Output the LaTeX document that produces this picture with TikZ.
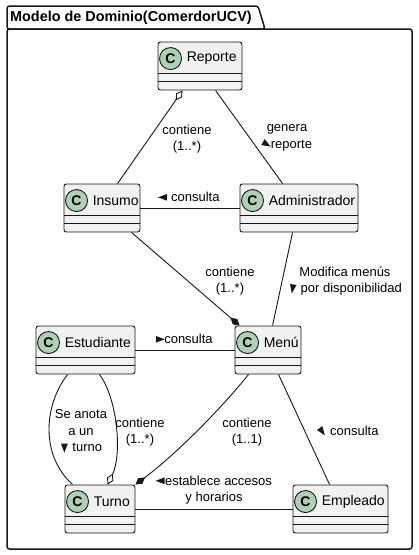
\documentclass[tikz,border=0pt]{standalone}
\usepackage{fontspec}
\setmainfont{Liberation Sans}
\usetikzlibrary{arrows.meta}
\definecolor{boxfill}{HTML}{F1F1F1}
\definecolor{ink}{HTML}{181818}
\definecolor{cgreen}{HTML}{ADD1B2}
\newcommand\tri[1]{\tikz[x=1cm,y=1cm,baseline={(0pt,-4.3pt)}]{\useasboundingbox (-4.5pt,-4.5pt) rectangle (4.5pt,4.5pt); \fill[ink] (#1:5pt) -- ({#1+140}:5.2pt) -- ({#1-140}:5.2pt) -- cycle;}}
\tikzset{
  classbox/.style={draw=ink, fill=boxfill, line width=0.9pt, rounded corners=2.5pt, inner sep=0pt, minimum height=48pt},
  cletter/.style={circle, draw=ink, fill=cgreen, line width=0.9pt, minimum size=22pt, inner sep=0pt, font=\fontsize{14}{14}\selectfont\bfseries},
  cname/.style={anchor=west, inner sep=0pt, font=\fontsize{14}{14}\selectfont},
  link/.style={draw=ink, line width=0.9pt},
  lbl/.style={align=center, inner sep=0pt, font=\fontsize{13}{16.5}\selectfont, text=black},
  pkg/.style={draw=ink, line width=1.5pt, fill=white},
  aggtip/.style={{Diamond[open, length=12pt, width=7pt]}-},
  aggend/.style={-{Diamond[open, length=12pt, width=7pt]}},
  compend/.style={-{Diamond[length=12pt, width=7pt]}}
}
\newcommand\umlclass[5]{%
  \node[classbox, minimum width={(#4)-(#2)}] (#1) at ({(#2+#4)/2},{#3+24}) {};
  \draw[link] ([yshift=-32pt]#1.north west) -- ([yshift=-32pt]#1.north east);
  \draw[link] ([yshift=-40pt]#1.north west) -- ([yshift=-40pt]#1.north east);
  \node[cletter] (#1-c) at ([xshift=13pt,yshift=-17pt]#1.north west) {C};
  \node[cname] (#1-t) at ([xshift=29pt,yshift=-17pt]#1.north west) {#5};
}
\begin{document}
\begin{tikzpicture}[x=1pt,y=-1pt]
\useasboundingbox (0,0) rectangle (419,555);
\fill[white] (0,0) rectangle (419,555);
% package
\draw[pkg, rounded corners=2.5pt] (7,6) -- (258,6) -- (265,29) -- (7,29) -- cycle;
\draw[pkg, rounded corners=2.5pt] (7,29) rectangle (412,549);
\node[anchor=west, inner sep=0pt, font=\fontsize{14.4}{14.4}\selectfont\bfseries] (title) at (10,17.5) {Modelo de Dominio(ComerdorUCV)};
% classes
\umlclass{rep}{158}{42}{242}{Reporte}
\umlclass{ins}{64}{184}{140}{Insumo}
\umlclass{adm}{240}{184}{358}{Administrador}
\umlclass{est}{36}{326}{135}{Estudiante}
\umlclass{men}{235}{326}{301}{Menú}
\umlclass{tur}{65}{485}{135}{Turno}
\umlclass{emp}{293}{485}{388}{Empleado}
% connectors
\draw[link, aggtip] ([xshift=25pt]rep.south west) -- ([xshift=54pt]ins.north west);
\draw[link] ([xshift=58pt]rep.south west) -- ([xshift=43pt]adm.north west);
\draw[link] (ins.east) -- (adm.west);
\draw[link, compend] ([xshift=68pt]ins.south west) -- ([xshift=5pt]men.north west);
\draw[link] ([xshift=53pt]adm.south west) -- ([xshift=38pt]men.north west);
\draw[link] (est.east) -- (men.west);
\draw[link] ([xshift=32pt]est.south west) .. controls (44,405) and (40,455) .. ([xshift=8pt]tur.north west);
\draw[link, aggend] ([xshift=64pt]est.south west) .. controls (118,400) and (122,455) .. ([xshift=43pt]tur.north west);
\draw[link, compend] ([xshift=14pt]men.south west) .. controls (220,410) and (175,455) .. (tur.north east);
\draw[link] ([xshift=44pt]men.south west) -- ([xshift=37pt]emp.north west);
\draw[link] (tur.east) -- (emp.west);
% labels
\node[lbl] (l1) at (187,139) {contiene\\(1..*)};
\node[lbl] (l2) at (287,138) {genera\\\tri{-30}reporte};
\node[lbl] (l3) at (189,197) {\tri{180} consulta};
\node[lbl] (l4) at (230,281) {contiene\\(1..*)};
\node[lbl] (l5) at (345,281) {Modifica menús\\\tri{-100} por disponibilidad};
\node[lbl] (l6) at (184,339) {\tri{0}consulta};
\node[lbl] (l7) at (81,431) {Se anota\\a un\\\tri{-90} turno};
\node[lbl] (l8) at (140,432) {contiene\\(1..*)};
\node[lbl] (l9) at (247,432) {contiene\\(1..1)};
\node[lbl] (l10) at (348,431) {\tri{-55} consulta};
\node[lbl] (l11) at (214,490) {\tri{180}establece accesos\\y horarios};
\end{tikzpicture}
\end{document}
